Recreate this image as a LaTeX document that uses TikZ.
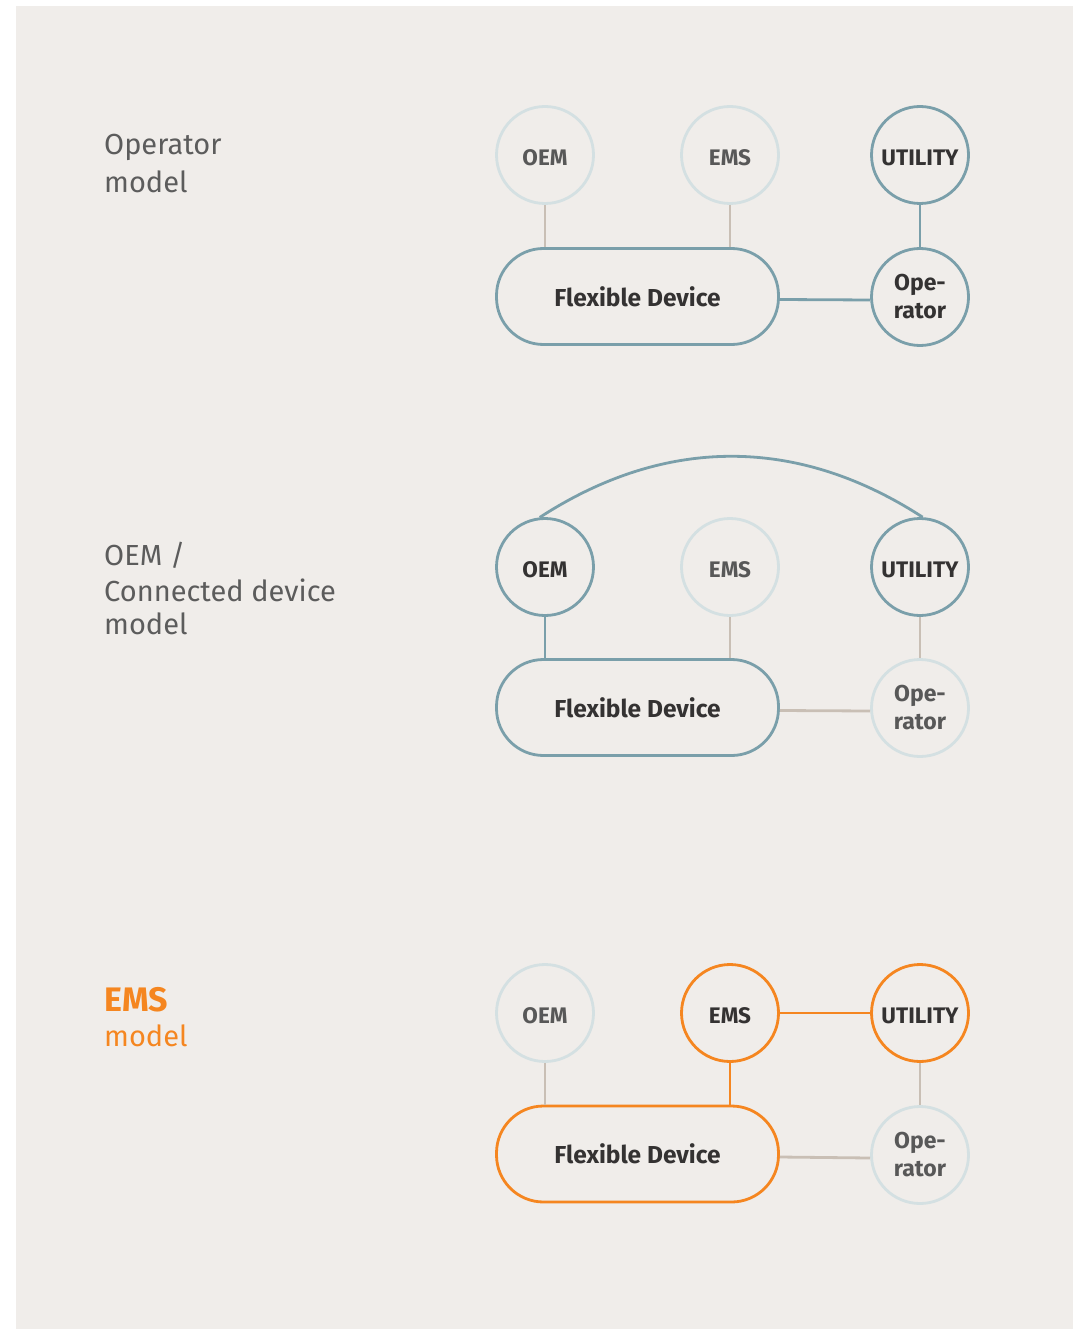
\documentclass[tikz,border=0pt]{standalone}
\usepackage{fontspec}
\setmainfont{Fira Sans}
\usetikzlibrary{positioning}
\definecolor{bgc}{RGB}{240,237,234}
\definecolor{teal}{RGB}{122,159,170}
\definecolor{pale}{RGB}{212,224,226}
\definecolor{beige}{RGB}{201,191,181}
\definecolor{orng}{RGB}{245,134,32}
\definecolor{txtd}{RGB}{52,50,50}
\definecolor{txtg}{RGB}{88,88,88}
\definecolor{lbl}{RGB}{92,92,92}
\tikzset{
  circ/.style={circle, minimum size=97pt, inner sep=0pt, line width=2.8pt, fill=bgc,
    font=\fontsize{22.5}{26}\selectfont\bfseries, align=center},
  one/.style={text height=21pt, text depth=0pt},
  on/.style={draw=teal, text=txtd},
  off/.style={draw=pale, text=txtg},
  hot/.style={draw=orng, text=txtd},
  optxt/.style={font=\fontsize{23}{28}\selectfont\bfseries},
  fdev/.style={rectangle, rounded corners=47pt, minimum width=282pt, minimum height=96pt,
    line width=2.8pt, fill=bgc, font=\fontsize{24.5}{28}\selectfont\bfseries, text=txtd},
  lon/.style={draw=teal, line width=2.8pt},
  loff/.style={draw=beige, line width=2.8pt},
  lhot/.style={draw=orng, line width=2.8pt},
  lab/.style={anchor=base west, font=\fontsize{29}{34}\selectfont, text=lbl, inner sep=0pt},
}
\begin{document}
\begin{tikzpicture}[x=1pt, y=-1pt]
\useasboundingbox (0,0) rectangle (1073,1329);
\fill[bgc] (16,6) rectangle (1073,1329);

% ---------- Section 1: Operator model
\node[lab] (l1a) at (104,155) {Operator};
\node[lab] (l1b) at (104,193) {model};
\node[circ, one, off] (oem1) at (545,155) {OEM};
\node[circ, one, off] (ems1) at (730,155) {EMS};
\node[circ, one, on] (ut1) at (920,155) {UTILITY};
\node[fdev, draw=teal] (fd1) at (637.5,296.5) {Flexible Device};
\node[circ, on, optxt] (op1) at (920,297) {Ope-\\rator};
\draw[loff] (oem1.south) -- (oem1.south |- fd1.north);
\draw[loff] (ems1.south) -- (ems1.south |- fd1.north);
\draw[lon] (ut1) -- (op1);
\draw[lon] ([yshift=-3pt]fd1.east) -- ([yshift=-3pt]op1.west);

% ---------- Section 2: OEM / Connected device model
\node[lab] (l2a) at (104,565) {OEM /};
\node[lab] (l2b) at (104,601) {Connected device};
\node[lab] (l2c) at (104,634) {model};
\node[circ, one, on] (oem2) at (545,567) {OEM};
\node[circ, one, off] (ems2) at (730,567) {EMS};
\node[circ, one, on] (ut2) at (920,567) {UTILITY};
\node[fdev, draw=teal] (fd2) at (637.5,707.5) {Flexible Device};
\node[circ, off, optxt] (op2) at (920,708) {Ope-\\rator};
\draw[lon] (oem2.south) -- (oem2.south |- fd2.north);
\draw[loff] (ems2.south) -- (ems2.south |- fd2.north);
\draw[loff] (ut2) -- (op2);
\draw[loff] ([yshift=-3pt]fd2.east) -- ([yshift=-3pt]op2.west);
\draw[lon] (oem2.96) to[out=33, in=147] (ut2.87);

% ---------- Section 3: EMS model
\node[lab, text=orng, font=\fontsize{34}{38}\selectfont\bfseries] (l3a) at (104,1011) {EMS};
\node[lab, text=orng] (l3b) at (104,1046) {model};
\node[circ, one, off] (oem3) at (545,1013) {OEM};
\node[circ, one, hot] (ems3) at (730,1013) {EMS};
\node[circ, one, hot] (ut3) at (920,1013) {UTILITY};
\node[fdev, draw=orng] (fd3) at (637.5,1154) {Flexible Device};
\node[circ, off, optxt] (op3) at (920,1155) {Ope-\\rator};
\draw[loff] (oem3.south) -- (oem3.south |- fd3.north);
\draw[lhot] (ems3.south) -- (ems3.south |- fd3.north);
\draw[lhot] (ems3) -- (ut3);
\draw[loff] (ut3) -- (op3);
\draw[loff] ([yshift=-3pt]fd3.east) -- ([yshift=-3pt]op3.west);
\end{tikzpicture}
\end{document}
